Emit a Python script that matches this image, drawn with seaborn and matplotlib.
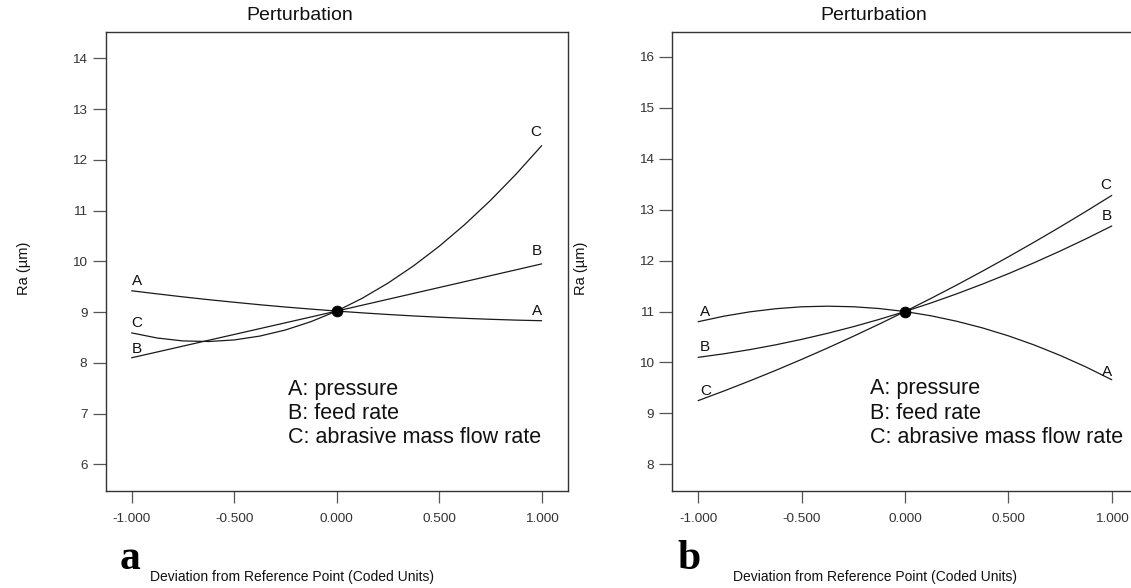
import numpy as np
import pandas as pd
import matplotlib
matplotlib.use("Agg")
import matplotlib.pyplot as plt
import seaborn as sns

# ---------------- data ----------------
x_dev = [-1.0, -0.875, -0.75, -0.625, -0.5, -0.375, -0.25, -0.125, 0.0,
         0.125, 0.25, 0.375, 0.5, 0.625, 0.75, 0.875, 1.0]

# panel a
a_A = [9.420, 9.359, 9.300, 9.245, 9.194, 9.145, 9.100, 9.059, 9.020,
       8.985, 8.953, 8.924, 8.899, 8.877, 8.858, 8.842, 8.830]
a_B = [8.100, 8.214, 8.329, 8.444, 8.559, 8.674, 8.789, 8.904, 9.020,
       9.136, 9.252, 9.368, 9.484, 9.600, 9.717, 9.833, 9.950]
a_C = [8.590, 8.489, 8.432, 8.420, 8.451, 8.527, 8.647, 8.812, 9.020,
       9.273, 9.570, 9.911, 10.296, 10.726, 11.200, 11.718, 12.280]
a_ref = 9.02

# panel b
b_A = [10.800, 10.909, 10.994, 11.055, 11.093, 11.105, 11.094, 11.059, 11.000,
       10.917, 10.809, 10.678, 10.523, 10.343, 10.139, 9.912, 9.660]
b_B = [10.100, 10.170, 10.252, 10.346, 10.453, 10.571, 10.702, 10.845, 11.000,
       11.167, 11.347, 11.539, 11.743, 11.959, 12.187, 12.427, 12.680]
b_C = [9.250, 9.440, 9.638, 9.844, 10.059, 10.282, 10.513, 10.752, 11.000,
       11.256, 11.520, 11.793, 12.074, 12.363, 12.660, 12.966, 13.280]
b_ref = 11.00

factors = ["A", "B", "C"]
legend_lines = ["A: pressure", "B: feed rate", "C: abrasive mass flow rate"]
x_ticks = [-1.0, -0.5, 0.0, 0.5, 1.0]
x_ticklabels = ["-1.000", "-0.500", "0.000", "0.500", "1.000"]
a_yticks = [6, 7, 8, 9, 10, 11, 12, 13, 14]
b_yticks = [8, 9, 10, 11, 12, 13, 14, 15, 16]

# ---------------- style ----------------
sns.set_style("white")
plt.rcParams["font.family"] = ["Liberation Sans", "DejaVu Sans"]

W, H = 1131, 588
fig = plt.figure(figsize=(W / 100, H / 100), dpi=100)

def px_rect(l, t, r, b):
    return [l / W, 1 - b / H, (r - l) / W, (b - t) / H]

ax_a = fig.add_axes(px_rect(106, 31.5, 567.7, 491))
ax_b = fig.add_axes(px_rect(672.3, 31.5, 1138, 491))

line_col = "#1a1a1a"

def draw(ax, series, ref, ylim, yticks, left_lab, right_lab, txt_xy):
    df = pd.DataFrame({
        "x": x_dev * 3,
        "y": series[0] + series[1] + series[2],
        "f": sum([[f] * len(x_dev) for f in factors], []),
    })
    sns.lineplot(data=df, x="x", y="y", units="f", estimator=None,
                 color=line_col, lw=0.9, ax=ax, legend=False)
    sns.scatterplot(x=[0.0], y=[ref], color="black", s=60, ax=ax,
                    edgecolor="black", zorder=5, legend=False)
    ax.set_xlim(-1.125, 1.127)
    ax.set_ylim(*ylim)
    ax.set_xticks(x_ticks)
    ax.set_xticklabels(x_ticklabels)
    ax.set_yticks(yticks)
    ax.set_yticklabels([str(v) for v in yticks])
    ax.tick_params(axis="x", direction="out", length=8.6, width=0.9,
                   color="#555555", labelsize=9.7, labelcolor="#333333", pad=7.5,
                   bottom=True)
    ax.tick_params(axis="y", direction="out", length=9.1, width=0.9,
                   color="#555555", labelsize=9.7, labelcolor="#333333", pad=4.3,
                   left=True)
    for s in ax.spines.values():
        s.set_color("#333333")
        s.set_linewidth(1.0)
    ax.set_xlabel("")
    ax.set_ylabel("")
    for lab, (xx, yy) in left_lab.items():
        ax.text(xx, yy, lab, fontsize=11, ha="left", va="center", color="#111111")
    for lab, (xx, yy) in right_lab.items():
        ax.text(xx, yy, lab, fontsize=11, ha="right", va="center", color="#111111")
    tx, ty, dy = txt_xy
    for i, t in enumerate(legend_lines):
        ax.text(tx, ty - i * dy, t, fontsize=15.5, ha="left", va="center", color="#111111")

draw(ax_a, [a_A, a_B, a_C], a_ref, (5.474, 14.53), a_yticks,
     {"A": (-1.0, 9.61), "C": (-1.0, 8.78), "B": (-1.0, 8.28)},
     {"C": (1.0, 12.55), "B": (1.0, 10.2), "A": (1.0, 9.02)},
     (-0.237, 7.48, 0.48))
draw(ax_b, [b_A, b_B, b_C], b_ref, (7.475, 16.5), b_yticks,
     {"A": (-0.99, 11.0), "B": (-0.99, 10.3), "C": (-0.99, 9.44)},
     {"C": (1.0, 13.48), "B": (1.0, 12.88), "A": (1.0, 9.82)},
     (-0.171, 9.48, 0.48))

# titles, axis labels, panel letters
for cx in (300, 874):
    fig.text(cx / W, 1 - 16 / H, "Perturbation", ha="center", va="center",
             fontsize=14, color="#111111")
for cx in (24, 581):
    fig.text(cx / W, 1 - 268 / H, "Ra (µm)", rotation=90, ha="center",
             va="center", fontsize=10.5, color="#111111")
for cx in (292, 875):
    fig.text(cx / W, 1 - 577 / H, "Deviation from Reference Point (Coded Units)",
             ha="center", va="center", fontsize=10, color="#111111")
for cx, lab in ((130, "a"), (689, "b")):
    fig.text(cx / W, 1 - 559 / H, lab, ha="center", va="center", fontsize=30,
             fontweight="bold", family=["Liberation Serif", "DejaVu Serif"],
             color="black")

fig.savefig("out.png", dpi=100)
